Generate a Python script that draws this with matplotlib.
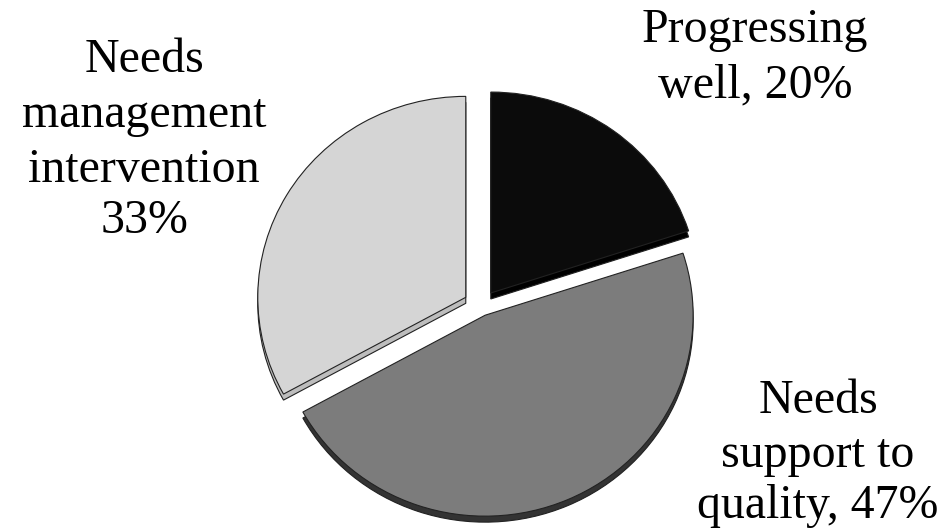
import matplotlib.pyplot as plt

# slice data (clockwise from 12 o'clock)
labels = ["Progressing well", "Needs support to quality", "Needs management intervention"]
shares = [20, 47, 33]
top_colors = ["#0b0b0b", "#7c7c7c", "#d5d5d5"]
side_colors = ["#000000", "#333333", "#bdbdbd"]
explode = [0.08, 0.05, 0.085]  # fraction of radius

W, H = 938, 529
k = 0.966  # vertical squash of the tilted pie
fig = plt.figure(figsize=(W / 100, H / 100), dpi=100)
ax = fig.add_axes([0, 0, 1, 1])

r = 208
cx, cy = 481, (H - 306) / k
depth = 6 / k
# pie() offsets exploded wedges in data units, so scale by the radius
offs = [e * r for e in explode]

# side of the 3D pie: a darker copy pushed down a little
ax.pie(shares, explode=offs, colors=side_colors, startangle=90, counterclock=False,
       center=(cx, cy - depth), radius=r, frame=True,
       wedgeprops=dict(edgecolor="#222222", linewidth=0.8))
# top face
ax.pie(shares, explode=offs, colors=top_colors, startangle=90, counterclock=False,
       center=(cx, cy), radius=r, frame=True,
       wedgeprops=dict(edgecolor="#222222", linewidth=0.8))
ax.set_aspect("auto")
ax.set_xlim(0, W)
ax.set_ylim(0, H / k)
ax.axis("off")

# labels, one line at a time (x centre, baseline y in pixels)
font = dict(family=["Liberation Serif", "DejaVu Serif"], fontsize=34.5, color="black",
            ha="center", va="baseline")
label_lines = [
    (755, [(42, "Progressing"), (97, "well, 20%")]),
    (818, [(413, "Needs"), (467, "support to"), (518, "quality, 47%")]),
    (144, [(72, "Needs"), (127, "management"), (182, "intervention"), (233, "33%")]),
]
for x, lines in label_lines:
    for y, txt in lines:
        fig.text(x / W, 1 - y / H, txt, **font)

fig.savefig("out.png", dpi=100)
